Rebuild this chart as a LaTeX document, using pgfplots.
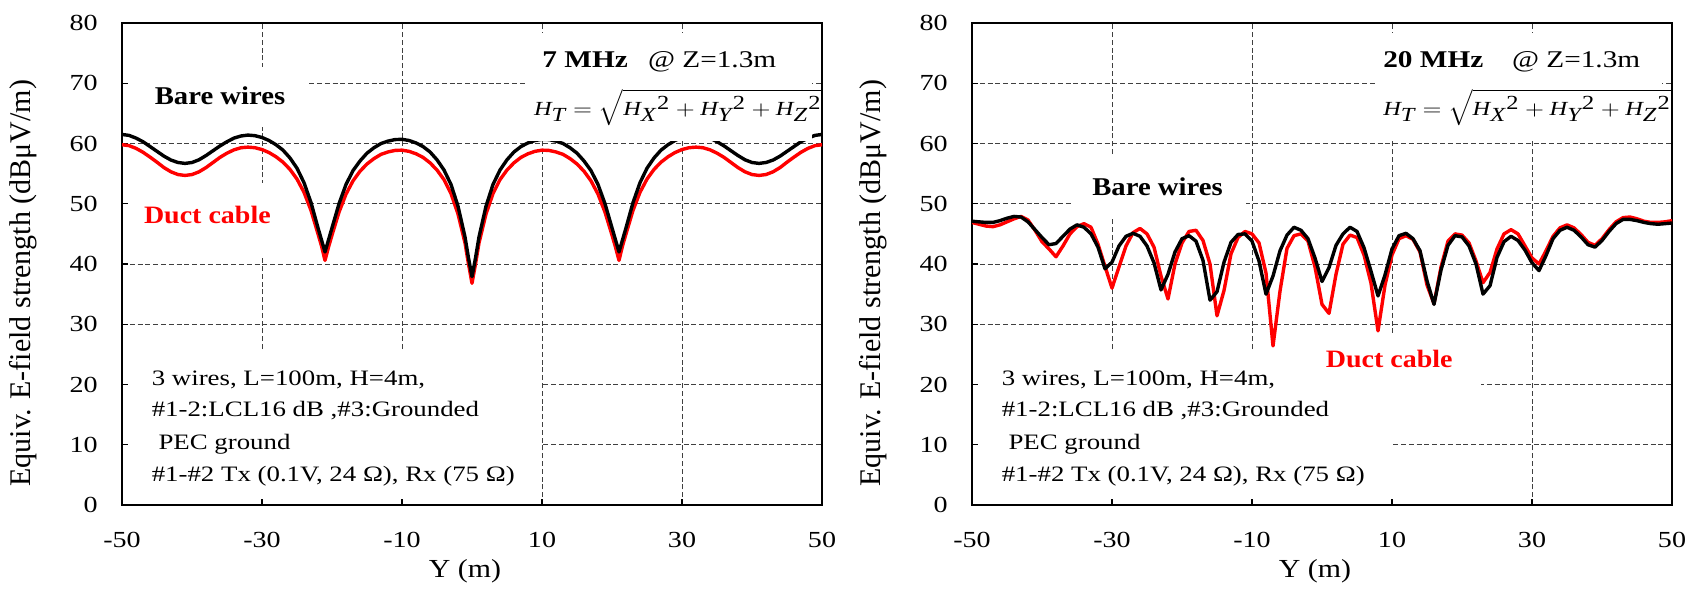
\documentclass[border=0pt]{standalone}
\usepackage{fontspec}
\setmainfont{Liberation Serif}
\usepackage{graphicx}
\usepackage{pgfplots}
\pgfplotsset{compat=1.18}

% text in the reference is stretched sideways
\newcommand{\sx}[1]{\scalebox{1.22}[1]{#1}}
\newcommand{\fs}[1]{\fontsize{#1}{#1}\selectfont}
\definecolor{ductred}{RGB}{255,0,0}

\pgfplotsset{
  fieldax/.style={
    scale only axis, width=350pt, height=241pt,
    xmin=-50, xmax=50, ymin=0, ymax=80,
    xtick={-50,-30,-10,10,30,50},
    ytick={0,10,20,30,40,50,60,70,80},
    xticklabels={\sx{-50},\sx{-30},\sx{-10},\sx{10},\sx{30},\sx{50}},
    yticklabels={\sx{0},\sx{10},\sx{20},\sx{30},\sx{40},\sx{50},\sx{60},\sx{70},\sx{80}},
    tick label style={font=\fs{11.5}},
    xticklabel style={anchor=north, inner sep=0pt, yshift=-13.5pt},
    yticklabel style={anchor=east, inner sep=0pt, xshift=-12pt},
    tick pos=left, tick align=inside, major tick length=3pt,
    tick style={black, line width=0.6pt},
    grid=major,
    grid style={black!75, line width=0.5pt, dash pattern=on 2.5pt off 1.4pt},
    axis line style={line width=1.3pt},
    xlabel={\scalebox{1.15}[1]{Y (m)}},
    xlabel style={font=\fs{13}, at={(axis description cs:0.49,-0.137)}, anchor=center},
    ylabel={Equiv. E-field strength (dBμV/m)},
    ylabel style={font=\fs{15}, at={(axis description cs:-0.1414,0.46)}, anchor=center},
    every axis plot/.append style={line width=1.7pt, line join=round},
  }
}

\begin{document}
\begin{tikzpicture}
\path[use as bounding box] (-61pt,-42.5pt) rectangle (783pt,252.5pt);

%% ===== 7 MHz =====
\begin{axis}[fieldax, at={(0pt,0pt)}, anchor=south west]
% boxes behind the curves
\fill[white] (axis cs:-49,62.8) rectangle (axis cs:-23.7,72.7);
\fill[white] (axis cs:-49,41) rectangle (axis cs:-24.6,53.4);
\fill[white] (axis cs:-49,1) rectangle (axis cs:9.7,25.7);
% duct cable
\addplot[color=ductred] coordinates {
(-50,59.8)(-49,59.65)(-48,59.2)(-47,58.55)(-46,57.75)(-45,56.9)(-44,56.0)(-43,55.3)(-42,54.85)(-41,54.7)
(-40,54.85)(-39,55.3)(-38,56.0)(-37,56.85)(-36,57.7)(-35,58.4)(-34,58.95)(-33,59.3)(-32,59.4)(-31,59.3)
(-30,59.0)(-29,58.5)(-28,57.8)(-27,56.9)(-26,55.7)(-25,54.1)(-24,51.9)(-23,48.9)(-22,45.0)(-21.5,43.0)
(-21,40.6)(-20.5,42.8)(-20,44.8)(-19,48.6)(-18,51.6)(-17,53.8)(-16,55.4)(-15,56.6)(-14,57.5)(-13,58.2)
(-12,58.6)(-11,58.85)(-10,58.9)(-9,58.7)(-8,58.3)(-7,57.7)(-6,56.8)(-5,55.6)(-4,54.0)(-3,51.7)
(-2,48.3)(-1,43.5)(-0.5,40.0)(0,36.8)(0.5,40.0)(1,43.5)(2,48.3)(3,51.7)(4,54.0)(5,55.6)
(6,56.8)(7,57.7)(8,58.3)(9,58.7)(10,58.9)(11,58.85)(12,58.6)(13,58.2)(14,57.5)(15,56.6)
(16,55.4)(17,53.8)(18,51.6)(19,48.6)(20,44.8)(20.5,42.8)(21,40.6)(21.5,43.0)(22,45.0)(23,48.9)
(24,51.9)(25,54.1)(26,55.7)(27,56.9)(28,57.8)(29,58.5)(30,59.0)(31,59.3)(32,59.4)(33,59.3)
(34,58.95)(35,58.4)(36,57.7)(37,56.85)(38,56.0)(39,55.3)(40,54.85)(41,54.7)(42,54.85)(43,55.3)
(44,56.0)(45,56.9)(46,57.75)(47,58.55)(48,59.2)(49,59.65)(50,59.8)
};
% bare wires
\addplot[color=black] coordinates {
(-50,61.5)(-49,61.35)(-48,60.9)(-47,60.3)(-46,59.5)(-45,58.7)(-44,57.9)(-43,57.25)(-42,56.85)(-41,56.7)
(-40,56.85)(-39,57.3)(-38,58.0)(-37,58.8)(-36,59.6)(-35,60.3)(-34,60.9)(-33,61.25)(-32,61.4)(-31,61.3)
(-30,61.0)(-29,60.5)(-28,59.8)(-27,58.9)(-26,57.6)(-25,55.9)(-24,53.5)(-23,50.2)(-22,46.0)(-21.5,44.0)
(-21,42.0)(-20.5,44.0)(-20,46.0)(-19,50.0)(-18,53.2)(-17,55.5)(-16,57.1)(-15,58.4)(-14,59.3)(-13,60.0)
(-12,60.4)(-11,60.65)(-10,60.7)(-9,60.5)(-8,60.1)(-7,59.5)(-6,58.6)(-5,57.3)(-4,55.6)(-3,53.2)
(-2,49.6)(-1,44.5)(-0.5,41.0)(0,37.9)(0.5,41.0)(1,44.5)(2,49.6)(3,53.2)(4,55.6)(5,57.3)
(6,58.6)(7,59.5)(8,60.1)(9,60.5)(10,60.7)(11,60.65)(12,60.4)(13,60.0)(14,59.3)(15,58.4)
(16,57.1)(17,55.5)(18,53.2)(19,50.0)(20,46.0)(20.5,44.0)(21,42.0)(21.5,44.0)(22,46.0)(23,50.2)
(24,53.5)(25,55.9)(26,57.6)(27,58.9)(28,59.8)(29,60.5)(30,61.0)(31,61.3)(32,61.4)(33,61.25)
(34,60.9)(35,60.3)(36,59.6)(37,58.8)(38,58.0)(39,57.3)(40,56.85)(41,56.7)(42,56.85)(43,57.25)
(44,57.9)(45,58.7)(46,59.5)(47,60.3)(48,60.9)(49,61.35)(50,61.5)
};
% formula box sits over the curves
\fill[white] (axis cs:7.5,60.4) rectangle (axis cs:48.5,78.4);
\node[anchor=base west, inner sep=0pt, font=\fs{12}\bfseries] at (axis cs:10.0,72.6) {\sx{7 MHz}};
\node[anchor=base west, inner sep=0pt, font=\fs{12}] at (axis cs:25.1,72.6) {\sx{@ Z=1.3m}};
\node[anchor=west, inner sep=0pt, font=\fs{10}] at (axis cs:8.8,66.0)
  {\sx{$\textit{H}_{\textit{T}} = \sqrt{\textit{H}_{\textit{X}}{}^{\textrm{2}} + \textit{H}_{\textit{Y}}{}^{\textrm{2}} + \textit{H}_{\textit{Z}}{}^{\textrm{2}}}$}};
\node[inner sep=0pt, font=\fs{12.8}\bfseries] at (axis cs:-36.0,68.0) {\scalebox{1.12}[1]{Bare wires}};
\node[inner sep=0pt, font=\fs{12.5}\bfseries, text=ductred] at (axis cs:-37.8,48.1) {\scalebox{1.12}[1]{Duct cable}};
\node[anchor=base west, inner sep=0pt, font=\fs{11}] at (axis cs:-45.8,19.8) {\sx{3 wires, L=100m, H=4m,}};
\node[anchor=base west, inner sep=0pt, font=\fs{11}] at (axis cs:-45.8,14.7) {\sx{\#1-2:LCL16 dB ,\#3:Grounded}};
\node[anchor=base west, inner sep=0pt, font=\fs{11}] at (axis cs:-45.8,9.2) {\sx{\ PEC ground}};
\node[anchor=base west, inner sep=0pt, font=\fs{11}] at (axis cs:-45.8,3.95) {\sx{\#1-\#2 Tx (0.1V, 24 Ω), Rx (75 Ω)}};
\end{axis}

%% ===== 20 MHz =====
\begin{axis}[fieldax, at={(425pt,0pt)}, anchor=south west]
\fill[white] (axis cs:-35.6,47.8) rectangle (axis cs:-10.8,58);
\fill[white] (axis cs:-2,18.9) rectangle (axis cs:22.7,28.5);
\fill[white] (axis cs:-49,1) rectangle (axis cs:10.1,25.6);
% duct cable
\addplot[color=ductred] coordinates {
(-50,46.9)(-49,46.6)(-48,46.3)(-47,46.2)(-46,46.5)(-45,47.0)(-44,47.5)(-43,47.9)(-42,47.3)(-41,45.6)
(-40,43.7)(-39,42.5)(-38,41.2)(-37,43.0)(-36,45.0)(-35,46.2)(-34,46.7)(-33,46.1)(-32,43.3)(-31,39.6)
(-30,36.0)(-29,39.5)(-28,43.0)(-27,45.2)(-26,45.9)(-25,45.0)(-24,42.8)(-23,38.0)(-22,34.2)(-21,40.0)
(-20,43.5)(-19,45.4)(-18,45.6)(-17,43.9)(-16,40.0)(-15,31.4)(-14,35.6)(-13,41.7)(-12,44.4)(-11,45.4)
(-10,45.0)(-9,43.5)(-8,38.5)(-7,26.4)(-6,35.5)(-5,42.6)(-4,44.7)(-3,45.0)(-2,43.8)(-1,39.5)
(0,33.3)(1,31.8)(2,38.3)(3,43.3)(4,44.8)(5,44.4)(6,41.5)(7,36.8)(8,28.9)(9,36.5)
(10,41.5)(11,44.2)(12,44.7)(13,44.1)(14,42.0)(15,36.5)(16,33.4)(17,39.5)(18,43.8)(19,45.0)
(20,44.8)(21,43.5)(22,40.5)(23,36.9)(24,38.6)(25,42.5)(26,45.0)(27,45.7)(28,45.0)(29,43.0)
(30,41.0)(31,40.0)(32,42.2)(33,44.6)(34,46.0)(35,46.5)(36,46.0)(37,44.9)(38,43.6)(39,43.1)
(40,44.2)(41,45.7)(42,47.0)(43,47.7)(44,47.8)(45,47.5)(46,47.1)(47,46.9)(48,46.9)(49,47.0)
(50,47.2)
};
% bare wires
\addplot[color=black] coordinates {
(-50,47.1)(-49,47.0)(-48,46.9)(-47,46.9)(-46,47.2)(-45,47.6)(-44,47.9)(-43,47.8)(-42,47.0)(-41,45.7)
(-40,44.4)(-39,43.2)(-38,43.4)(-37,44.6)(-36,45.8)(-35,46.5)(-34,46.1)(-33,45.0)(-32,42.8)(-31,39.2)
(-30,40.3)(-29,43.0)(-28,44.6)(-27,45.1)(-26,44.6)(-25,43.0)(-24,40.2)(-23,35.7)(-22,38.3)(-21,42.0)
(-20,44.2)(-19,44.7)(-18,43.8)(-17,40.6)(-16,34.0)(-15,35.4)(-14,40.3)(-13,43.6)(-12,44.9)(-11,45.0)
(-10,43.8)(-9,40.5)(-8,35.0)(-7,38.0)(-6,42.2)(-5,44.8)(-4,46.1)(-3,45.6)(-2,44.2)(-1,41.0)
(0,37.1)(1,39.4)(2,43.1)(3,45.0)(4,46.1)(5,45.4)(6,42.7)(7,38.8)(8,34.7)(9,38.2)
(10,42.5)(11,44.7)(12,45.1)(13,44.2)(14,42.2)(15,37.2)(16,33.3)(17,39.0)(18,43.1)(19,44.7)
(20,44.5)(21,43.0)(22,40.0)(23,35.0)(24,36.4)(25,41.1)(26,43.7)(27,44.6)(28,43.9)(29,42.3)
(30,40.2)(31,38.9)(32,41.4)(33,44.2)(34,45.6)(35,46.1)(36,45.6)(37,44.5)(38,43.2)(39,42.8)
(40,43.9)(41,45.4)(42,46.7)(43,47.4)(44,47.4)(45,47.2)(46,46.9)(47,46.7)(48,46.6)(49,46.7)
(50,46.8)
};
\fill[white] (axis cs:7.5,60.4) rectangle (axis cs:48.5,78.4);
\node[anchor=base west, inner sep=0pt, font=\fs{12}\bfseries] at (axis cs:8.7,72.6) {\sx{20 MHz}};
\node[anchor=base west, inner sep=0pt, font=\fs{12}] at (axis cs:27.1,72.6) {\sx{@ Z=1.3m}};
\node[anchor=west, inner sep=0pt, font=\fs{10}] at (axis cs:8.7,66.0)
  {\sx{$\textit{H}_{\textit{T}} = \sqrt{\textit{H}_{\textit{X}}{}^{\textrm{2}} + \textit{H}_{\textit{Y}}{}^{\textrm{2}} + \textit{H}_{\textit{Z}}{}^{\textrm{2}}}$}};
\node[inner sep=0pt, font=\fs{12.8}\bfseries] at (axis cs:-23.5,52.8) {\scalebox{1.12}[1]{Bare wires}};
\node[inner sep=0pt, font=\fs{12.5}\bfseries, text=ductred] at (axis cs:9.6,24.2) {\scalebox{1.12}[1]{Duct cable}};
\node[anchor=base west, inner sep=0pt, font=\fs{11}] at (axis cs:-45.8,19.8) {\sx{3 wires, L=100m, H=4m,}};
\node[anchor=base west, inner sep=0pt, font=\fs{11}] at (axis cs:-45.8,14.7) {\sx{\#1-2:LCL16 dB ,\#3:Grounded}};
\node[anchor=base west, inner sep=0pt, font=\fs{11}] at (axis cs:-45.8,9.2) {\sx{\ PEC ground}};
\node[anchor=base west, inner sep=0pt, font=\fs{11}] at (axis cs:-45.8,3.95) {\sx{\#1-\#2 Tx (0.1V, 24 Ω), Rx (75 Ω)}};
\end{axis}
\end{tikzpicture}
\end{document}
